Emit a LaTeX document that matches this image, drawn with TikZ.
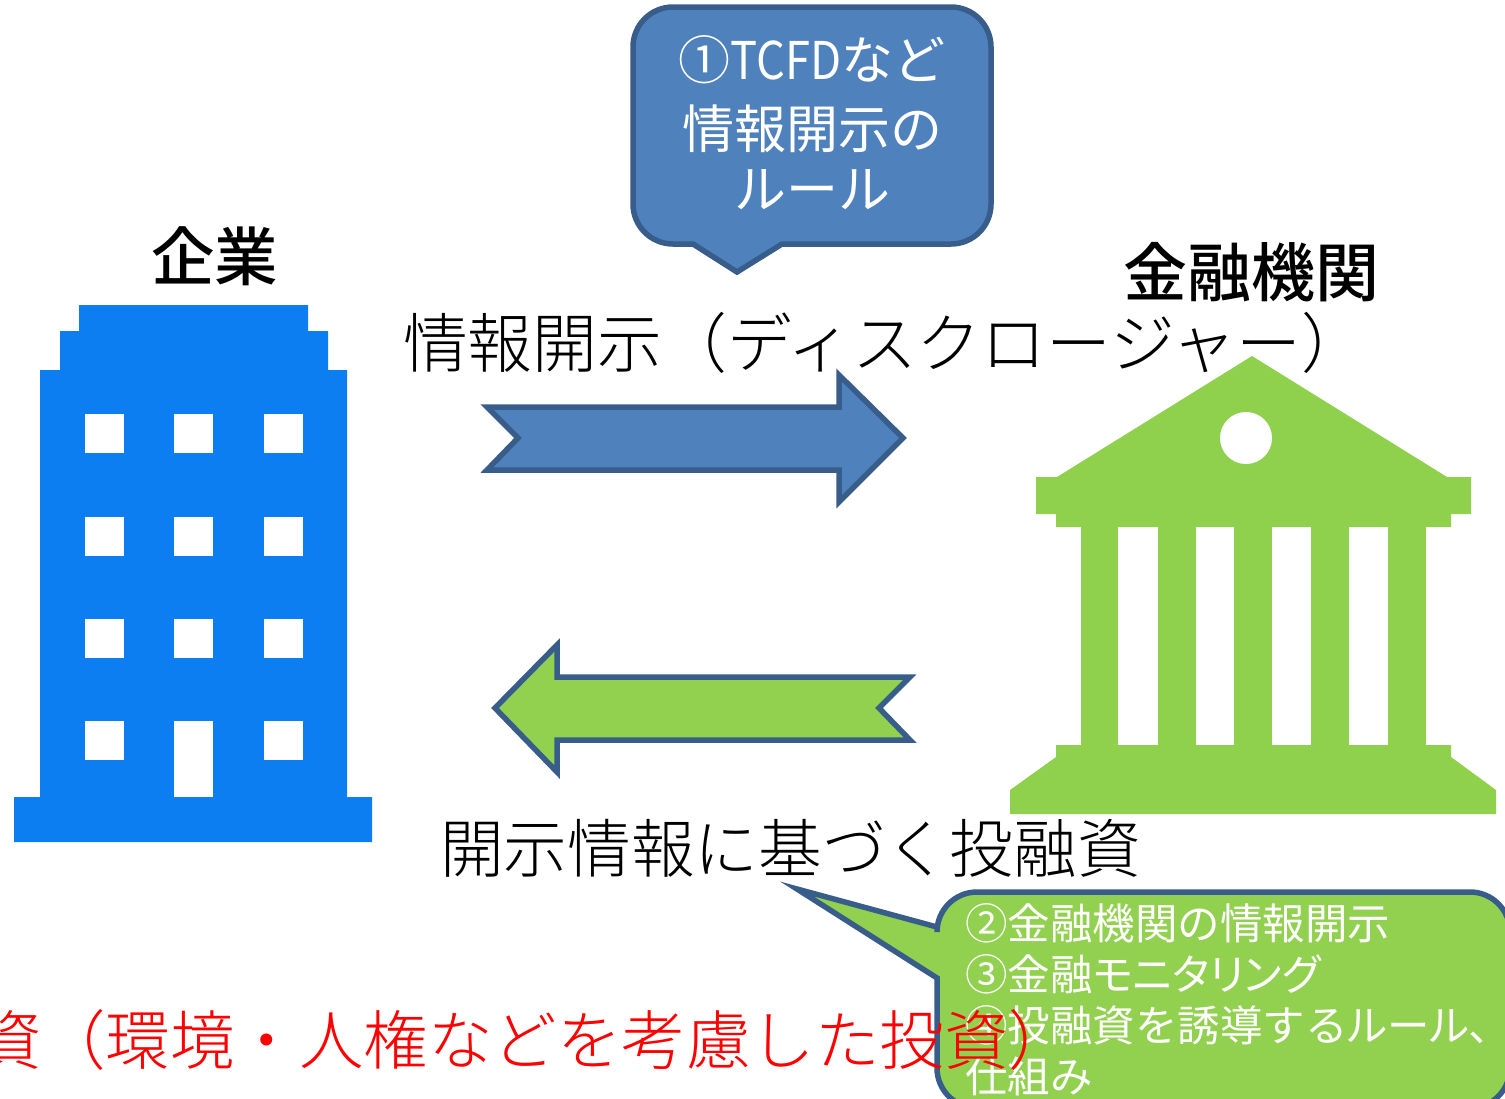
\documentclass[tikz,border=0pt]{standalone}
\usepackage{fontspec}
\setmainfont{Noto Sans CJK JP Light}
\newfontfamily\jpmed{Noto Sans CJK JP Medium}
\newfontfamily\jpreg{Noto Sans CJK JP}
\definecolor{calloutblue}{HTML}{4F81BD}
\definecolor{edgeblue}{HTML}{385D8A}
\definecolor{leafgreen}{HTML}{92D050}
\definecolor{bankgreen}{HTML}{8FD14C}
\definecolor{towerblue}{HTML}{0D7DF2}
\newcommand{\fs}[2]{\fontsize{#1}{#2}\selectfont}
\newcommand{\tightkana}[1]{{\addfontfeature{RawFeature=+palt}#1}}
\newcommand{\narrowlatin}[1]{{\addfontfeature{FakeStretch=0.87}#1}}
\tikzset{
  x=1pt,y=-1pt,
  shapeedge/.style={draw=edgeblue,line width=5.5pt,line join=miter},
  bluefill/.style={shapeedge,fill=calloutblue},
  greenfill/.style={shapeedge,fill=leafgreen},
  opening/.style={fill=white},
  label/.style={inner sep=0pt,outer sep=0pt,anchor=base west},
}
\begin{document}
\begin{tikzpicture}
\useasboundingbox (0,0) rectangle (1505,1098);
\clip (0,0) rectangle (1505,1098);
% building
\fill[towerblue] (79,305) -- (308,305) -- (308,331) -- (328,331) -- (328,370) -- (347,370) -- (347,797) -- (372,797) -- (372,842) -- (14,842) -- (14,797) -- (40,797) -- (40,370) -- (60,370) -- (60,331) -- (79,331) -- cycle;
\foreach \wy in {414,517,619,721} \foreach \wx in {85,174,264} {
  \fill[opening] (\wx,\wy) rectangle ++(38.5,38.5);
}
\fill[opening] (174,721) rectangle (213,797);
% bank
\fill[bankgreen] (1252,356) -- (1447,477) -- (1471,477) -- (1471,514) -- (1451,514) -- (1451,527) -- (1056,527) -- (1056,514) -- (1036,514) -- (1036,477) -- (1057,477) -- cycle;
\fill[bankgreen] (1056,745) -- (1451,745) -- (1451,757) -- (1496,790) -- (1496,814) -- (1010,814) -- (1010,790) -- (1056,757) -- cycle;
\foreach \cl/\cr in {1081/1118,1158/1196,1234/1272,1311/1349,1388/1426} {
  \fill[bankgreen] (\cl,526) rectangle (\cr,746);
}
\fill[opening] (1246,438) circle[radius=26];
% arrows
\path[bluefill] (487,407) -- (518,438) -- (487,470) -- (839,470) -- (839,502) -- (903,438) -- (839,375) -- (839,407) -- cycle;
\path[greenfill] (910,677) -- (879,708) -- (910,740) -- (557,740) -- (557,772) -- (495,708) -- (557,645) -- (557,677) -- cycle;
% blue callout
\path[bluefill] (673,7) -- (951,7) arc[start angle=-90,end angle=0,radius=40] -- (991,204) arc[start angle=0,end angle=90,radius=40] -- (782,244) -- (737,272) -- (693,244) -- (673,244) arc[start angle=90,end angle=180,radius=40] -- (633,47) arc[start angle=180,end angle=270,radius=40] -- cycle;
% green callout
\path[greenfill] (977,892) -- (1470,892) arc[start angle=-90,end angle=0,radius=40] -- (1510,1068) arc[start angle=0,end angle=90,radius=40] -- (977,1108) arc[start angle=90,end angle=180,radius=40] -- (937,978) -- (797,889) -- (937,927) -- (937,932) arc[start angle=180,end angle=270,radius=40] -- cycle;
% texts
\node[label] (kigyo) at (151,280) {\fs{63.5}{64}\jpmed 企業};
\node[label] (kinyu) at (1123,296) {\fs{64}{65}\jpmed 金融機関};
\node[label] (kaiji) at (403,367) {\fs{64.8}{65}情報開示（ディスクロージャー）};
\node[label] (toyushi) at (440,872) {\fs{63.7}{64}開示情報に基づく投融資};
\node[align=center,text=white,inner sep=0pt,font=\fs{52}{65}\jpreg] (rule) at (812,123) {①\narrowlatin{TCFD}など\\[4pt]情報開示の\\[-5pt]ルール};
\node[align=left,text=white,inner sep=0pt,anchor=west,font=\fs{42.5}{51}\jpreg] (green) at (965,1000) {②金融機関の情報開示\\③金融\tightkana{モニタリング}\\④投融資を誘導する\tightkana{ルール、}\\仕組み};
\node[label,text=red] (esg) at (-23,1064) {\fs{64.5}{65}資（環境・人権などを考慮した投資）};
\end{tikzpicture}
\end{document}
